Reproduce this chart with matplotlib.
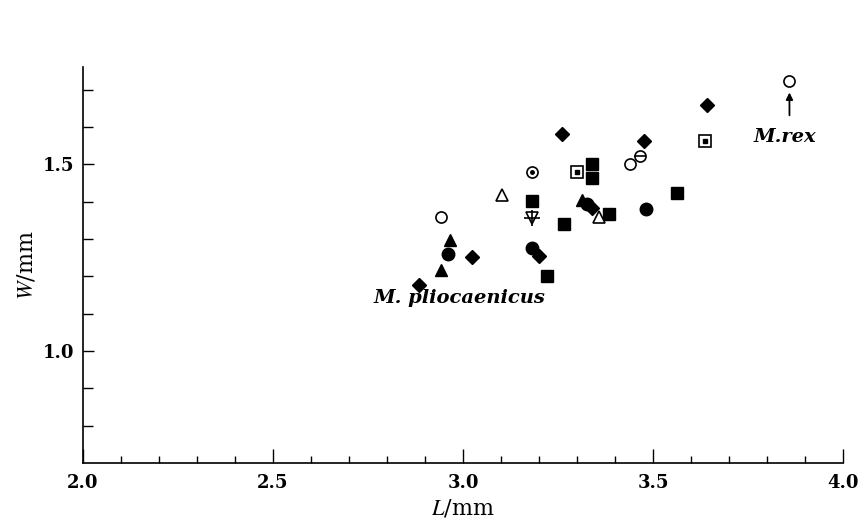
import matplotlib.pyplot as plt
from matplotlib.ticker import MultipleLocator

# body length L and width W (mm) per marker type
diamond_L = [2.884, 3.023, 3.201, 3.260, 3.340, 3.477, 3.642]
diamond_W = [1.177, 1.253, 1.255, 1.581, 1.382, 1.563, 1.659]

square_L = [3.182, 3.266, 3.222, 3.339, 3.339, 3.383, 3.563]
square_W = [1.401, 1.341, 1.202, 1.500, 1.464, 1.366, 1.423]

circle_L = [2.961, 3.181, 3.326, 3.482]
circle_W = [1.260, 1.276, 1.395, 1.380]

triangle_L = [2.966, 2.942, 3.312]
triangle_W = [1.298, 1.217, 1.405]

open_circle_L = [2.942, 3.440, 3.859]
open_circle_W = [1.360, 1.501, 1.723]

theta_L = [3.466]
theta_W = [1.522]

open_triangle_L = [3.102, 3.358]
open_triangle_W = [1.419, 1.360]

dot_circle_L = [3.181]
dot_circle_W = [1.479]

dot_square_L = [3.300, 3.638]
dot_square_W = [1.479, 1.563]

stem_tri_L = [3.181]
stem_tri_W = [1.357]

plt.rcParams['font.family'] = ['DejaVu Serif']
plt.rcParams['mathtext.fontset'] = 'stix'

fig = plt.figure(figsize=(8.62, 5.26), dpi=100)
ax = fig.add_axes([0.0963, 0.120, 0.8817, 0.752])

k = dict(color='black', linestyle='none')
ax.plot(diamond_L, diamond_W, marker='D', markersize=7, **k)
ax.plot(square_L, square_W, marker='s', markersize=9, **k)
ax.plot(circle_L, circle_W, marker='o', markersize=9, **k)
ax.plot(triangle_L, triangle_W, marker='^', markersize=8, **k)

op = dict(markerfacecolor='white', markeredgecolor='black', markeredgewidth=1.2, linestyle='none')
ax.plot(open_circle_L, open_circle_W, marker='o', markersize=8, **op)
ax.plot(theta_L, theta_W, marker='o', markersize=8, **op)
ax.plot(theta_L, theta_W, marker='_', markersize=8, color='black', markeredgewidth=1.2, linestyle='none')
ax.plot(open_triangle_L, open_triangle_W, marker='^', markersize=8, **op)
ax.plot(dot_circle_L, dot_circle_W, marker='o', markersize=8, **op)
ax.plot(dot_circle_L, dot_circle_W, marker='o', markersize=2.5, **k)
ax.plot(dot_square_L, dot_square_W, marker='s', markersize=8, **op)
ax.plot(dot_square_L, dot_square_W, marker='s', markersize=2.5, **k)
ax.plot(stem_tri_L, stem_tri_W, marker='v', markersize=8, **op)
ax.plot(stem_tri_L, stem_tri_W, marker='+', markersize=11, color='black', markeredgewidth=1.2, linestyle='none')

ax.text(2.992, 1.142, 'M. pliocaenicus', fontsize=14, fontstyle='italic', fontweight='bold',
        ha='center', va='center', family='DejaVu Serif')
ax.text(3.847, 1.573, 'M.rex', fontsize=14, fontstyle='italic', fontweight='bold',
        ha='center', va='center', family='DejaVu Serif')
ax.annotate('', xy=(3.859, 1.700), xytext=(3.859, 1.624),
            arrowprops=dict(arrowstyle='-|>', color='black', lw=1.3, mutation_scale=10))

ax.set_xlim(2.0, 4.0)
ax.set_ylim(0.7, 1.76)
ax.xaxis.set_major_locator(MultipleLocator(0.5))
ax.xaxis.set_minor_locator(MultipleLocator(0.1))
ax.tick_params(which='both', direction='in', width=1.0, labelsize=13)
ax.tick_params(axis='x', which='major', length=10, pad=8)
ax.tick_params(axis='x', which='minor', length=5)
ax.tick_params(axis='y', which='major', length=8, pad=6)
ax.tick_params(axis='y', which='minor', length=7)
ax.set_yticks([1.0, 1.5])
ax.set_yticks([0.8, 0.9, 1.1, 1.2, 1.3, 1.4, 1.6, 1.7], minor=True)
for lab in ax.get_xticklabels() + ax.get_yticklabels():
    lab.set_fontweight('bold')

ax.spines['top'].set_visible(False)
ax.spines['right'].set_visible(False)
ax.spines['left'].set_linewidth(1.2)
ax.spines['bottom'].set_linewidth(1.2)

ax.set_xlabel('$L$/mm', fontsize=16, labelpad=4)
ax.set_ylabel('$W$/mm', fontsize=16, labelpad=4)

fig.savefig('out.png', dpi=100)
